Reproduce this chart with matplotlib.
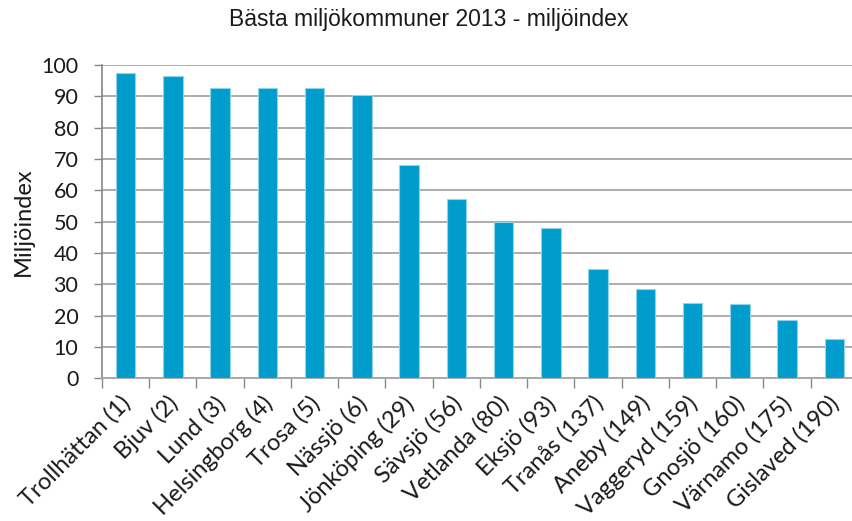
import matplotlib
matplotlib.use("Agg")
import matplotlib.pyplot as plt
import matplotlib.transforms as mtransforms
import numpy as np

kommuner = ["Trollhättan (1)", "Bjuv (2)", "Lund (3)", "Helsingborg (4)", "Trosa (5)",
            "Nässjö (6)", "Jönköping (29)", "Sävsjö (56)", "Vetlanda (80)", "Eksjö (93)",
            "Tranås (137)", "Aneby (149)", "Vaggeryd (159)", "Gnosjö (160)",
            "Värnamo (175)", "Gislaved (190)"]
miljoindex = [97.3, 96.6, 92.6, 92.6, 92.6, 90.4, 68.1, 57.1, 50.0, 47.9,
              34.9, 28.4, 23.9, 23.6, 18.5, 12.6]
yticks = list(range(0, 101, 10))

plt.rcParams['font.family'] = ['Lato', 'DejaVu Sans']

fig = plt.figure(figsize=(8.53, 5.21), dpi=100)
ax = fig.add_axes([102 / 853, 1 - 378.3 / 521, 756 / 853, 313.3 / 521])

x = np.arange(len(kommuner))
ax.bar(x, miljoindex, width=0.41, color='#009ccb', edgecolor='#8fd3ea',
       linewidth=0.8, zorder=3)

ax.set_xlim(-0.5, len(kommuner) - 0.5)
ax.set_ylim(0, 100)
ax.set_yticks(yticks)
ax.set_yticklabels([str(v) for v in yticks], fontsize=15.5, color='#1a1a1a')
ax.yaxis.grid(True, color='#a6a6a6', linewidth=1.3, zorder=0)

# category boundary ticks below the axis
ax.set_xticks(np.arange(len(kommuner) + 1) - 0.5)
ax.set_xticklabels([])
ax.tick_params(axis='x', length=7, width=1, color='#868686', direction='out')
ax.tick_params(axis='y', length=6, width=1, color='#868686', direction='out', pad=11)

for s in ['top', 'right']:
    ax.spines[s].set_visible(False)
ax.spines['left'].set_color('#868686')
ax.spines['bottom'].set_color('#a6a6a6')
ax.spines['left'].set_linewidth(1.2)
ax.spines['bottom'].set_linewidth(1.3)

# rotated category names, right end just past the bar centre
offset = mtransforms.ScaledTranslation(-6 / 100, -14 / 100, fig.dpi_scale_trans)
trans = ax.get_xaxis_transform() + offset
for xi, name in zip(x, kommuner):
    ax.text(xi, 0, name, transform=trans, rotation=45, rotation_mode='anchor',
            ha='right', va='top', fontsize=17, color='#1a1a1a')

ax.set_ylabel("Miljöindex", fontsize=17, color='#1a1a1a', labelpad=5)

fig.text(0.502, 0.962, "Bästa miljökommuner 2013 - miljöindex", ha='center', va='center',
         fontsize=16.5, family=['Liberation Sans', 'DejaVu Sans'], color='#1a1a1a')

fig.savefig("out.png", dpi=100)
